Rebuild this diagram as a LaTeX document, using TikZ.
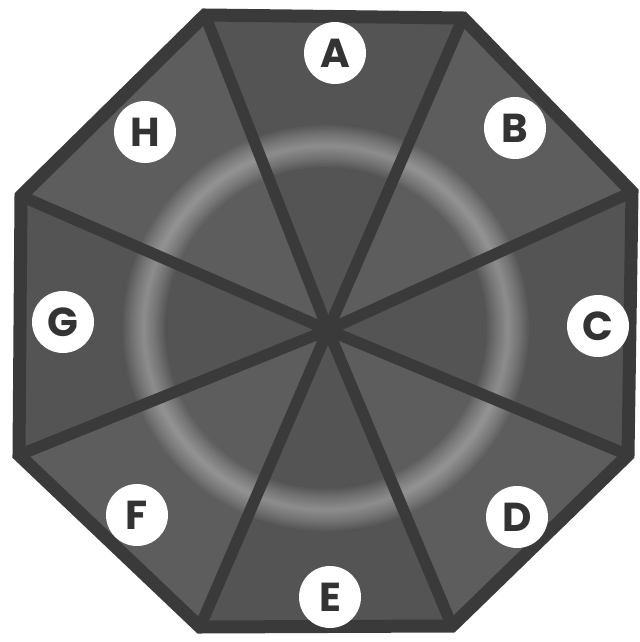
\documentclass[tikz,border=0pt]{standalone}
\usepackage{fontspec}
\setmainfont{Poppins}
\usepackage{xcolor}
\usepackage{tikz}
\usetikzlibrary{calc}

\definecolor{edgegray}{HTML}{3A3A3A}
\definecolor{sectordark}{HTML}{545454}
\definecolor{sectorlight}{HTML}{5D5D5D}
\definecolor{lettergray}{HTML}{333333}

\begin{document}
\begin{tikzpicture}[x=0.2mm,y=-0.2mm,
    spoke/.style={draw=edgegray, line width=2.3mm, line join=miter},
    badge/.style={circle, fill=white, minimum size=12.4mm, inner sep=0pt,
      text=lettergray, font=\bfseries\fontsize{23}{23}\selectfont}]
  \useasboundingbox (0,0) rectangle (639,642);
  % octagon corners and hub
  \coordinate (v1) at (205,15);
  \coordinate (v2) at (463,18);
  \coordinate (v3) at (632,192);
  \coordinate (v4) at (628,455);
  \coordinate (v5) at (452,626);
  \coordinate (v6) at (200,627);
  \coordinate (v7) at (19,455);
  \coordinate (v8) at (21,196);
  \coordinate (hub) at (328,330);
  % sectors
  \fill[sectordark]  (hub) -- (v1) -- (v2) -- cycle;
  \fill[sectorlight] (hub) -- (v2) -- (v3) -- cycle;
  \fill[sectordark]  (hub) -- (v3) -- (v4) -- cycle;
  \fill[sectorlight] (hub) -- (v4) -- (v5) -- cycle;
  \fill[sectordark]  (hub) -- (v5) -- (v6) -- cycle;
  \fill[sectorlight] (hub) -- (v6) -- (v7) -- cycle;
  \fill[sectordark]  (hub) -- (v7) -- (v8) -- cycle;
  \fill[sectorlight] (hub) -- (v8) -- (v1) -- cycle;
  % soft light ring
  \begin{scope}
    \clip (v1) -- (v2) -- (v3) -- (v4) -- (v5) -- (v6) -- (v7) -- (v8) -- cycle;
    \foreach \i in {1,...,12}
      \draw[white, opacity=0.035, line width=\i*0.7mm] (326,328) circle (182);
  \end{scope}
  % spokes and rim
  \foreach \v in {v1,v2,v3,v4,v5,v6,v7,v8}
    \draw[spoke] (hub) -- (\v);
  \draw[spoke, line width=2.6mm] (v1) -- (v2) -- (v3) -- (v4) -- (v5) -- (v6) -- (v7) -- (v8) -- cycle;
  % labels
  \node[badge] (a) at (335,53)  {A};
  \node[badge] (b) at (515,128) {B};
  \node[badge] (c) at (598,326) {C};
  \node[badge] (d) at (517,517) {D};
  \node[badge] (e) at (330,597) {E};
  \node[badge] (f) at (137,515) {F};
  \node[badge] (g) at (63,322)  {G};
  \node[badge] (h) at (145,132) {H};
\end{tikzpicture}
\end{document}
